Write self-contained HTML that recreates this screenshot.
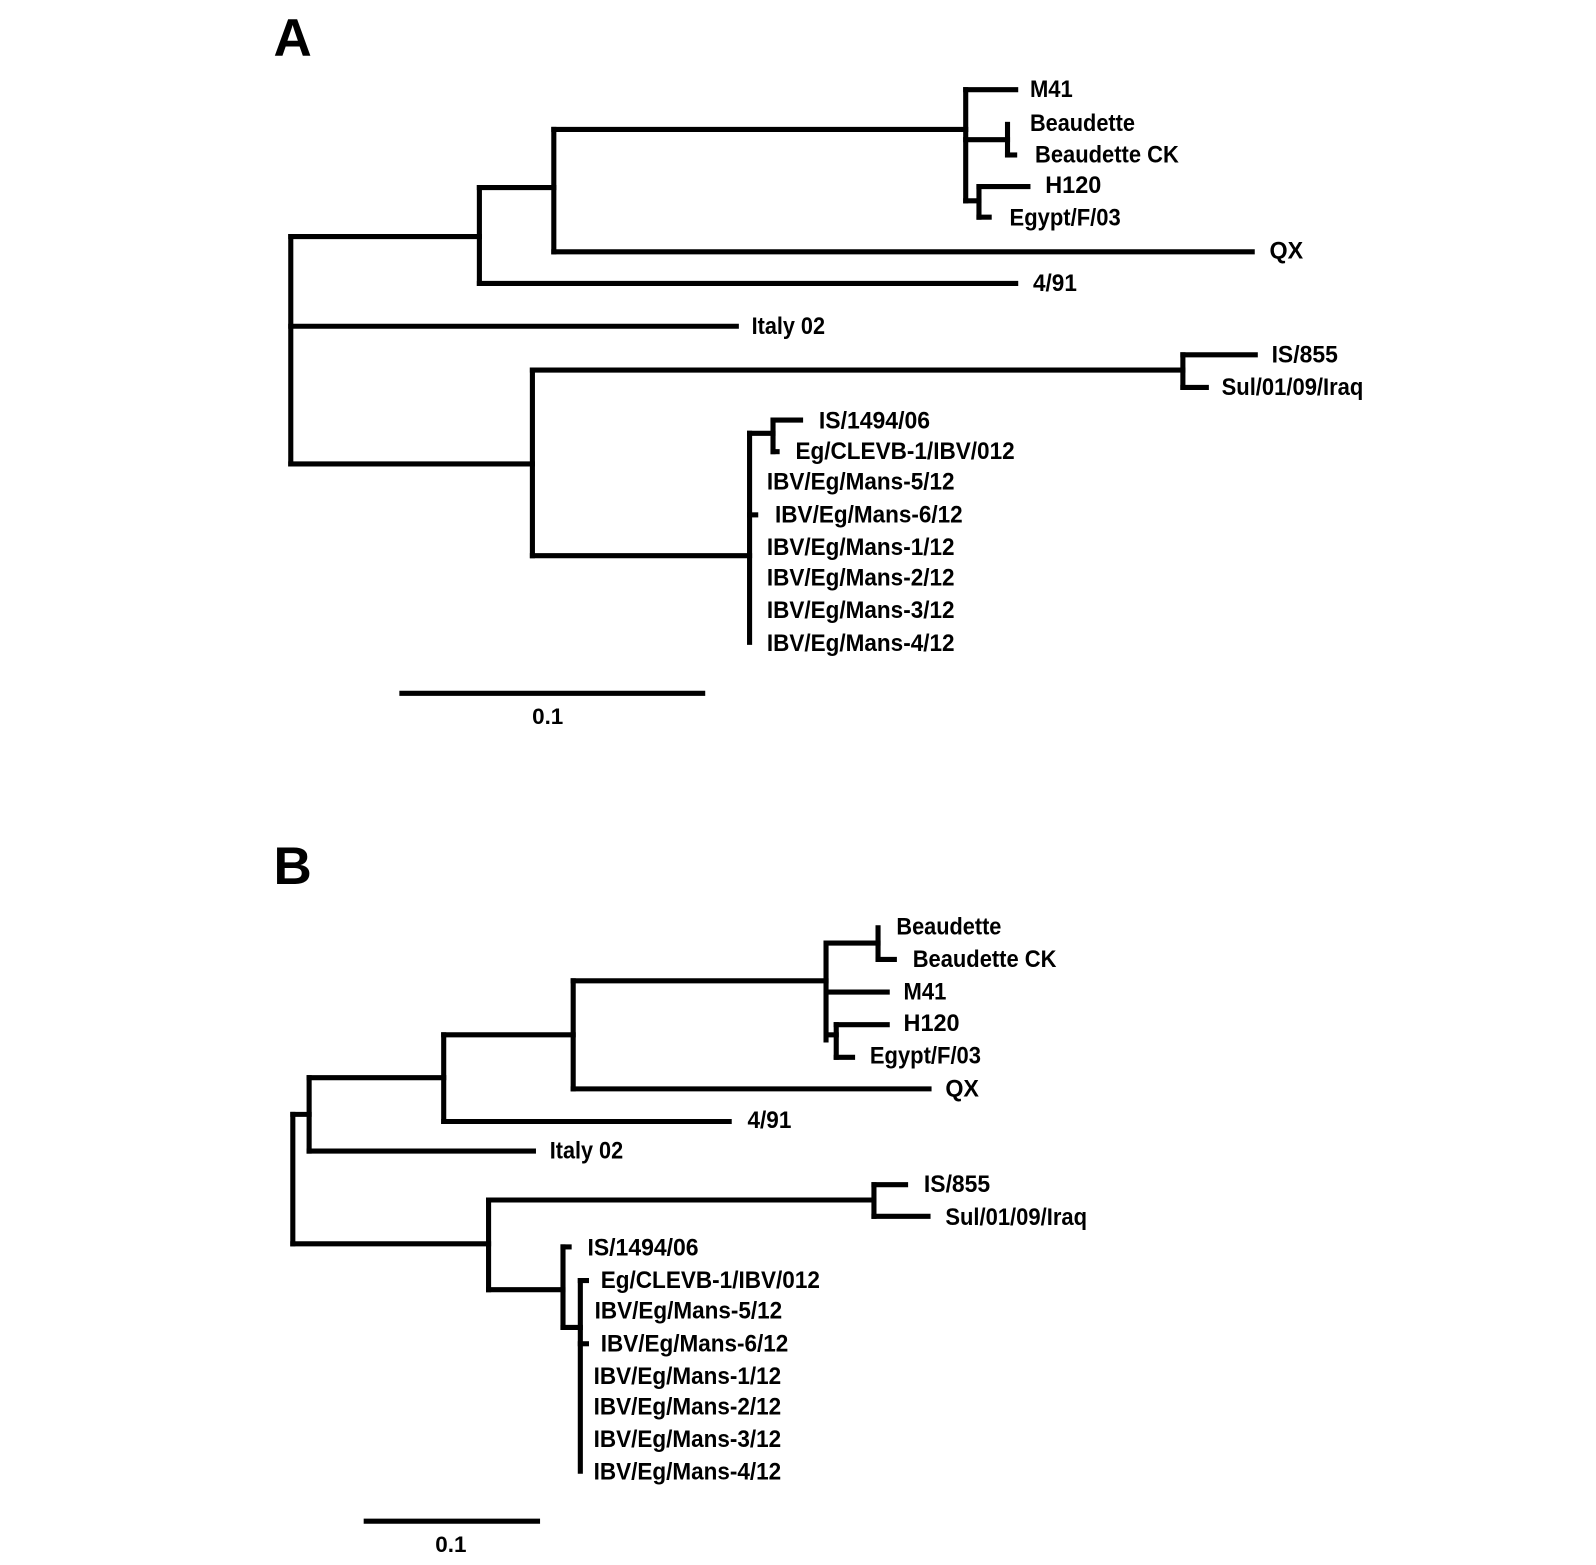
<!DOCTYPE html>
<html><head><meta charset="utf-8"><style>
html,body{margin:0;padding:0;background:#fff;}
svg{display:block}
text{font-family:"Liberation Sans",Arial,sans-serif;font-weight:bold;font-size:24px;fill:#000;dominant-baseline:central}
line{stroke:#000;stroke-width:5;stroke-linecap:square}
</style></head><body>
<svg width="1596" height="1565" viewBox="0 0 1565 1535" xmlns="http://www.w3.org/2000/svg">
<rect width="1565" height="1535" fill="#fff"/>
<!-- Tree A -->
<text x="268" y="38" style="font-size:52px" >A</text>
<line x1="285" y1="232" x2="285" y2="455"/>
<line x1="285" y1="232" x2="470" y2="232"/>
<line x1="285" y1="320" x2="722" y2="320"/>
<line x1="285" y1="455" x2="522" y2="455"/>
<line x1="470" y1="184" x2="470" y2="278"/>
<line x1="470" y1="184" x2="543" y2="184"/>
<line x1="470" y1="278" x2="996" y2="278"/>
<line x1="543" y1="127" x2="543" y2="247"/>
<line x1="543" y1="127" x2="947" y2="127"/>
<line x1="543" y1="247" x2="1228" y2="247"/>
<line x1="947" y1="88" x2="947" y2="197"/>
<line x1="947" y1="88" x2="996" y2="88"/>
<line x1="947" y1="137" x2="988" y2="137"/>
<line x1="988" y1="122" x2="988" y2="152"/>
<line x1="988" y1="152" x2="995" y2="152"/>
<line x1="947" y1="197" x2="960" y2="197"/>
<line x1="960" y1="183" x2="960" y2="213"/>
<line x1="960" y1="183" x2="1008" y2="183"/>
<line x1="960" y1="213" x2="970" y2="213"/>
<text x="1010" y="88" textLength="42" lengthAdjust="spacingAndGlyphs">M41</text>
<text x="1010" y="121" textLength="103" lengthAdjust="spacingAndGlyphs">Beaudette</text>
<text x="1015" y="152" textLength="141" lengthAdjust="spacingAndGlyphs">Beaudette CK</text>
<text x="1025" y="182" textLength="55" lengthAdjust="spacingAndGlyphs">H120</text>
<text x="990" y="214" textLength="109" lengthAdjust="spacingAndGlyphs">Egypt/F/03</text>
<text x="1245" y="246" textLength="33" lengthAdjust="spacingAndGlyphs">QX</text>
<text x="1013" y="278" textLength="43" lengthAdjust="spacingAndGlyphs">4/91</text>
<text x="737" y="320" textLength="72" lengthAdjust="spacingAndGlyphs">Italy 02</text>
<line x1="522" y1="363" x2="522" y2="545"/>
<line x1="522" y1="363" x2="1160" y2="363"/>
<line x1="1160" y1="348" x2="1160" y2="380"/>
<line x1="1160" y1="348" x2="1231" y2="348"/>
<line x1="1160" y1="380" x2="1183" y2="380"/>
<text x="1247" y="348" textLength="65" lengthAdjust="spacingAndGlyphs">IS/855</text>
<text x="1198" y="380" textLength="139" lengthAdjust="spacingAndGlyphs">Sul/01/09/Iraq</text>
<line x1="522" y1="545" x2="735" y2="545"/>
<line x1="735" y1="425" x2="735" y2="630"/>
<line x1="735" y1="425" x2="758" y2="425"/>
<line x1="758" y1="412" x2="758" y2="443"/>
<line x1="758" y1="412" x2="785" y2="412"/>
<line x1="758" y1="443" x2="762" y2="443"/>
<line x1="735" y1="505" x2="741" y2="505"/>
<text x="803" y="413" textLength="109" lengthAdjust="spacingAndGlyphs">IS/1494/06</text>
<text x="780" y="443" textLength="215" lengthAdjust="spacingAndGlyphs">Eg/CLEVB-1/IBV/012</text>
<text x="752" y="473" textLength="184" lengthAdjust="spacingAndGlyphs">IBV/Eg/Mans-5/12</text>
<text x="760" y="505" textLength="184" lengthAdjust="spacingAndGlyphs">IBV/Eg/Mans-6/12</text>
<text x="752" y="537" textLength="184" lengthAdjust="spacingAndGlyphs">IBV/Eg/Mans-1/12</text>
<text x="752" y="567" textLength="184" lengthAdjust="spacingAndGlyphs">IBV/Eg/Mans-2/12</text>
<text x="752" y="599" textLength="184" lengthAdjust="spacingAndGlyphs">IBV/Eg/Mans-3/12</text>
<text x="752" y="631" textLength="184" lengthAdjust="spacingAndGlyphs">IBV/Eg/Mans-4/12</text>
<line x1="394" y1="680" x2="689" y2="680"/>
<text x="537" y="703" text-anchor="middle" style="font-size:22px">0.1</text>

<!-- Tree B -->
<text x="268" y="850" style="font-size:52px">B</text>
<line x1="287" y1="1093" x2="287" y2="1220"/>
<line x1="287" y1="1093" x2="303" y2="1093"/>
<line x1="287" y1="1220" x2="479" y2="1220"/>
<line x1="303" y1="1057" x2="303" y2="1129"/>
<line x1="303" y1="1057" x2="435" y2="1057"/>
<line x1="303" y1="1129" x2="523" y2="1129"/>
<line x1="435" y1="1015" x2="435" y2="1100"/>
<line x1="435" y1="1015" x2="562" y2="1015"/>
<line x1="435" y1="1100" x2="715" y2="1100"/>
<line x1="562" y1="962" x2="562" y2="1068"/>
<line x1="562" y1="962" x2="810" y2="962"/>
<line x1="562" y1="1068" x2="911" y2="1068"/>
<line x1="810" y1="925" x2="810" y2="1020"/>
<line x1="810" y1="925" x2="861" y2="925"/>
<line x1="861" y1="910" x2="861" y2="941"/>
<line x1="861" y1="941" x2="877" y2="941"/>
<line x1="810" y1="973" x2="870" y2="973"/>
<line x1="810" y1="1015" x2="820" y2="1015"/>
<line x1="820" y1="1005" x2="820" y2="1037"/>
<line x1="820" y1="1005" x2="870" y2="1005"/>
<line x1="820" y1="1037" x2="836" y2="1037"/>
<text x="879" y="909" textLength="103" lengthAdjust="spacingAndGlyphs">Beaudette</text>
<text x="895" y="941" textLength="141" lengthAdjust="spacingAndGlyphs">Beaudette CK</text>
<text x="886" y="973" textLength="42" lengthAdjust="spacingAndGlyphs">M41</text>
<text x="886" y="1004" textLength="55" lengthAdjust="spacingAndGlyphs">H120</text>
<text x="853" y="1036" textLength="109" lengthAdjust="spacingAndGlyphs">Egypt/F/03</text>
<text x="927" y="1068" textLength="33" lengthAdjust="spacingAndGlyphs">QX</text>
<text x="733" y="1099" textLength="43" lengthAdjust="spacingAndGlyphs">4/91</text>
<text x="539" y="1129" textLength="72" lengthAdjust="spacingAndGlyphs">Italy 02</text>
<line x1="479" y1="1177" x2="479" y2="1265"/>
<line x1="479" y1="1177" x2="857" y2="1177"/>
<line x1="857" y1="1162" x2="857" y2="1193"/>
<line x1="857" y1="1162" x2="888" y2="1162"/>
<line x1="857" y1="1193" x2="910" y2="1193"/>
<text x="906" y="1162" textLength="65" lengthAdjust="spacingAndGlyphs">IS/855</text>
<text x="927" y="1194" textLength="139" lengthAdjust="spacingAndGlyphs">Sul/01/09/Iraq</text>
<line x1="479" y1="1265" x2="552" y2="1265"/>
<line x1="552" y1="1223" x2="552" y2="1302"/>
<line x1="552" y1="1223" x2="558" y2="1223"/>
<line x1="552" y1="1302" x2="569" y2="1302"/>
<line x1="569" y1="1256" x2="569" y2="1443"/>
<line x1="569" y1="1256" x2="575" y2="1256"/>
<line x1="569" y1="1318" x2="575" y2="1318"/>
<text x="576" y="1224" textLength="109" lengthAdjust="spacingAndGlyphs">IS/1494/06</text>
<text x="589" y="1256" textLength="215" lengthAdjust="spacingAndGlyphs">Eg/CLEVB-1/IBV/012</text>
<text x="583" y="1286" textLength="184" lengthAdjust="spacingAndGlyphs">IBV/Eg/Mans-5/12</text>
<text x="589" y="1318" textLength="184" lengthAdjust="spacingAndGlyphs">IBV/Eg/Mans-6/12</text>
<text x="582" y="1350" textLength="184" lengthAdjust="spacingAndGlyphs">IBV/Eg/Mans-1/12</text>
<text x="582" y="1380" textLength="184" lengthAdjust="spacingAndGlyphs">IBV/Eg/Mans-2/12</text>
<text x="582" y="1412" textLength="184" lengthAdjust="spacingAndGlyphs">IBV/Eg/Mans-3/12</text>
<text x="582" y="1444" textLength="184" lengthAdjust="spacingAndGlyphs">IBV/Eg/Mans-4/12</text>
<line x1="359" y1="1492" x2="527" y2="1492"/>
<text x="442" y="1515" text-anchor="middle" style="font-size:22px">0.1</text>
</svg>
</body></html>
